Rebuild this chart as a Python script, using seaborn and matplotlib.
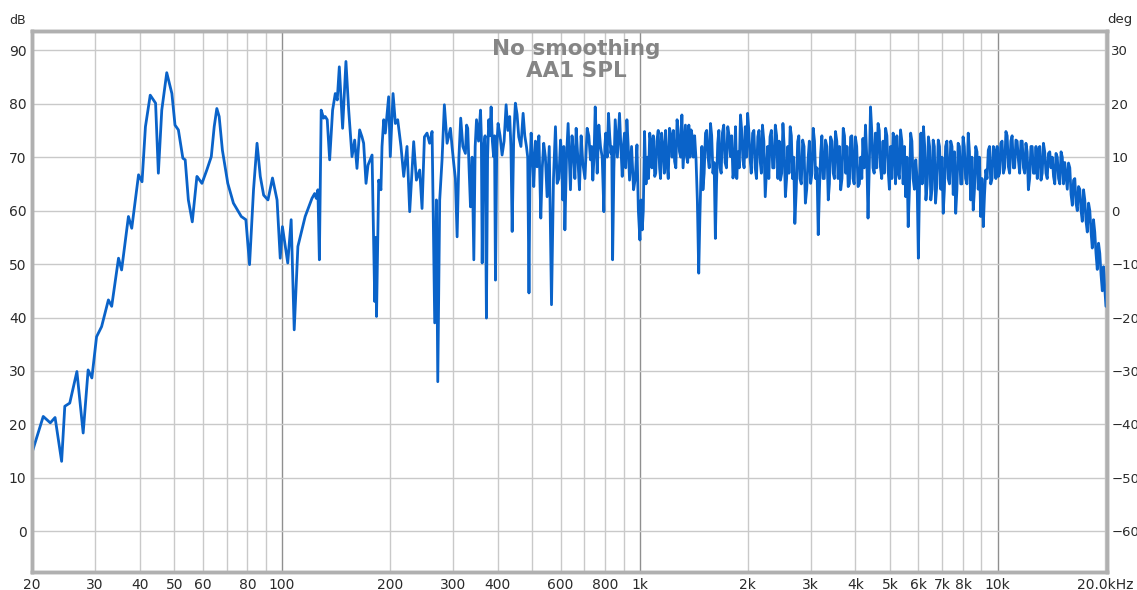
import matplotlib
matplotlib.use("Agg")
import matplotlib.pyplot as plt
import matplotlib.ticker as mticker
import pandas as pd
import seaborn as sns

# Measured SPL of the AA1 driver, unsmoothed (frequency in Hz, level in dB)
# Bass / lower-midrange part, up to 1 kHz
freq_low_hz = [
    20, 21.5, 22.5, 23.2, 24.2, 24.7, 25.5, 26.7, 27.8, 28.7, 29.4, 30.3, 31.3,
    32.7, 33.4, 34.9, 35.6, 37.2, 38.0, 39.7, 40.6, 41.5, 42.8, 44.3, 45.1,
    46.1, 47.6, 49.2, 50.2, 51.3, 52.8, 53.6, 54.7, 56.1, 57.8, 58.4, 59.7,
    61.6, 63.4, 64.6, 65.7, 66.7, 68.1, 70.5, 73.1, 76.9, 79.2, 81.1, 83.2,
    85.1, 86.9, 88.8, 91.3, 94.0, 96.8, 98.8, 100.2, 103.7, 106.0, 108.1,
    110.7, 116.0, 121.2, 123.3, 124.6, 125.9, 127.1, 128.6, 130.6, 132.0,
    133.7, 135.8, 138.4, 140.8, 142.6, 144.5, 147.6, 150.8, 153.5, 156.8,
    159.5, 161.9, 164.7, 167.2, 169.0, 171.6, 173.8, 178.4, 181.5, 182.5,
    183.6, 186.2, 188.9, 190.2, 192.3, 194.3, 198.5, 200.6, 204.2, 207.3,
    210.4, 214.9, 218.7, 223.4, 227.3, 233.2, 237.3, 242.4, 246.1, 249.9,
    254.1, 258.4, 262.5, 267.0, 269.9, 272.3, 275.7, 279.9, 284.1, 289.1,
    295.4, 301.7, 308.4, 315.6, 325.3, 330.2, 336.1, 343.4, 349.4, 358.5,
    362.4, 366.0, 372.4, 378.0, 383.8, 390.0, 394.7, 401.4, 411.9, 422.7,
    432.6, 439.5, 448.7, 458.5, 471.6, 481.8, 489.7, 496.6, 505.0, 515.9,
    528.4, 538.4, 550.3, 566.1, 580.7, 587, 600, 608.5, 617, 630, 639.5,
    653.2, 663.4, 677.7, 692.3, 712, 727.5, 738.5, 750, 759.5, 775.9, 793,
    802.7, 817, 829.6, 838.8, 853, 876.9, 892.4, 905.5, 919.6, 935.4, 959.9,
    981.1,
]
spl_low_db = [
    14.7, 21.5, 20.3, 21.3, 13.1, 23.4, 24.0, 29.9, 18.4, 30.2, 28.7, 36.4, 38.3,
    43.3, 42.1, 51.1, 48.9, 58.9, 56.7, 66.7, 65.4, 75.7, 81.6, 80.1, 67.0,
    78.8, 85.8, 81.9, 76.0, 75.1, 69.8, 69.5, 62.0, 57.9, 66.4, 66.0, 65.1,
    67.6, 70.1, 75.7, 79.1, 77.6, 71.3, 65.1, 61.4, 58.9, 58.3, 49.9, 63.9,
    72.6, 66.4, 62.9, 62.0, 66.1, 62.0, 51.1, 57.0, 50.2, 58.3, 37.7,
    53.3, 58.9, 62.3, 63.2, 62.3, 63.9, 50.8, 78.8, 77.3, 77.6,
    77.0, 69.5, 78.8, 81.9, 80.7, 86.9, 75.4, 87.9, 78.8, 70.1,
    73.2, 67.9, 75.1, 73.8, 72.6, 65.1, 68.5, 70.4, 43.0, 55.0,
    40.2, 65.7, 63.9, 72.0, 77.0, 74.5, 81.3, 70.1, 81.9, 76.3,
    77.0, 72.0, 66.4, 72.0, 59.8, 72.9, 65.7, 67.6, 60.4, 73.8,
    74.5, 72.6, 74.8, 39.0, 62.0, 28.0, 62.0, 69.5, 79.8, 72.6,
    75.4, 68.9, 55.1, 77.3, 70.7, 75.4, 60.7, 50.8, 77.0, 78.8,
    50.2, 72.0, 39.9, 77.0, 79.4, 70.1, 47.0, 76.3, 70.4, 79.8,
    77.6, 56.1, 80.1, 73.8, 78.2, 72.0, 44.6, 74.5, 64.5, 68.2,
    58.6, 72.6, 62.6, 42.4, 75.7, 65.1, 73.2, 62.0, 56.4, 76.3, 63.9,
    70.1, 75.4, 63.9, 68.9, 75.4, 69.5, 65.7, 79.4, 67.0, 72.0, 59.8,
    74.5, 78.2, 70.7, 50.8, 77.0, 78.2, 66.4, 74.5, 77.0, 65.7, 63.9,
    72.3,
]

# Midrange, 300 Hz to 1 kHz: in-between swings of the ripple
freq_mid_ripple_hz = [
    298.5, 305, 312, 320, 327.8, 333, 339.7, 346.4, 354, 360.4, 364.2, 369.2,
    375.2, 380.9, 386.9, 392.3, 398, 406.6, 417.3, 427.6, 436, 444, 453.6,
    465, 476.7, 485.7, 493, 500.8, 510.4, 522, 533.4, 544.3, 558, 573.4, 584,
    593.5, 604, 612.7, 623.5, 634.7, 646, 658, 670.5, 685, 702, 719.7, 733,
    744.2, 754.7, 767.7, 784.4, 797.8, 809.8, 823.3, 834.2, 845.9, 865, 884.6,
    898.9, 912.5, 927.5, 947.6, 970.5, 990,
]
spl_mid_ripple_db = [
    72, 66, 70, 72, 76, 68, 70, 72, 73, 74, 66, 74,
    70, 74, 73, 74, 72, 74, 73, 75, 72, 74, 78,
    72, 74, 70, 68, 70, 73, 74, 68, 70, 72, 66, 70,
    66, 70, 72, 70, 70, 74, 66, 70, 74, 66, 74, 72,
    70, 74, 76, 70, 72, 70, 74, 72, 68, 70, 72,
    72, 68, 72, 72, 66, 60,
]

# Upper-midrange / treble part, 1 kHz to 20 kHz: main peaks and dips
freq_high_hz = [
    1000, 1015, 1030, 1050, 1065, 1080, 1100, 1115, 1135, 1150, 1170, 1190,
    1210, 1230, 1250, 1270, 1290, 1310, 1330, 1350, 1370, 1390, 1410, 1435,
    1460, 1480, 1500, 1525, 1550, 1575, 1600, 1625, 1650, 1675, 1700, 1730,
    1760, 1790, 1820, 1850, 1880, 1910, 1940, 1970, 2000, 2030, 2065, 2100,
    2135, 2170, 2200, 2240, 2275, 2310, 2350, 2390, 2430, 2470, 2510, 2550,
    2590, 2630, 2670, 2710, 2760, 2800, 2850, 2900, 2950, 3000, 3050, 3100,
    3150, 3200, 3250, 3300, 3360, 3410, 3470, 3520, 3580, 3640, 3700, 3760,
    3820, 3880, 3940, 4000, 4070, 4140, 4200, 4270, 4340, 4410, 4480, 4550,
    4630, 4700, 4780, 4860, 4940, 5020, 5100, 5180, 5270, 5350, 5440, 5530,
    5620, 5710, 5800, 5900, 6000, 6100, 6200, 6300, 6400, 6500, 6600, 6700,
    6820, 6930, 7040, 7150, 7270, 7390, 7510, 7630, 7750, 7880, 8000, 8130,
    8270, 8400, 8540, 8680, 8820, 8960, 9110, 9260, 9410, 9560, 9720, 9880,
    10040, 10200, 10370, 10540, 10710, 10880, 11060, 11240, 11420, 11610,
    11800, 11990, 12180, 12380, 12580, 12790, 13000, 13210, 13420, 13640,
    13860, 14090, 14320, 14550, 14790, 15030, 15270, 15520, 15770, 16030,
    16290, 16550, 16820, 17090, 17370, 17650, 17940, 18230, 18520, 18820,
    19130, 19440, 19750, 19900, 20064,
]
spl_high_db = [
    54.5, 56.4, 74.8, 70.0, 74.5, 68.0, 66.4, 73.0, 68.0, 74.5, 67.0, 68.9,
    75.4, 70.0, 69.2, 77.0, 71.0, 77.9, 72.0, 70.1, 76.0, 75.1, 70.0, 69.5,
    48.3, 66.0, 63.9, 74.5, 70.0, 76.3, 67.0, 54.8, 72.6, 68.0, 74.5, 69.0,
    75.7, 70.1, 66.1, 75.7, 71.0, 77.9, 69.5, 75.7, 78.2, 70.1, 74.5, 68.0,
    73.8, 69.0, 76.0, 62.6, 72.0, 73.8, 68.0, 76.0, 66.0, 65.7, 76.3, 62.6,
    72.0, 75.7, 66.0, 57.6, 72.9, 66.0, 73.2, 61.4, 69.5, 65.1, 75.4, 66.0,
    55.5, 70.7, 66.0, 73.2, 62.0, 73.8, 67.0, 74.8, 66.0, 63.9, 75.4, 67.0,
    64.5, 73.8, 66.0, 73.8, 64.5, 70.0, 73.5, 76.0, 58.6, 79.4, 68.0, 74.5,
    76.3, 68.2, 73.0, 75.4, 67.6, 72.0, 74.5, 65.0, 67.0, 75.1, 65.0, 62.6,
    57.0, 74.5, 66.0, 69.5, 51.1, 74.5, 75.7, 62.0, 73.8, 62.0, 73.2, 61.4,
    73.2, 64.0, 59.5, 72.0, 66.0, 73.0, 63.0, 59.5, 72.6, 65.0, 73.8, 66.0,
    74.5, 62.0, 60.1, 72.0, 64.0, 58.9, 57.0, 67.6, 71.3, 65.0, 72.0, 66.0,
    66.4, 72.6, 67.0, 74.8, 68.2, 73.0, 68.0, 73.2, 69.5, 73.0,
    68.0, 72.6, 63.9, 72.0, 67.0, 72.0, 71.3, 65.7, 72.6, 67.0,
    70.7, 68.0, 66.4, 70.7, 66.0, 71.0, 65.0, 66.4, 68.9, 63.0,
    65.7, 61.4, 64.5, 60.1, 63.9, 58.0, 61.4, 56.0, 58.3, 52.0,
    53.9, 48.0, 49.5, 45.8, 42.1,
]

# Upper-midrange / treble part: in-between swings of the dense ripple
freq_ripple_hz = [
    1007, 1022, 1040, 1057, 1072, 1090, 1107, 1125, 1142, 1160, 1180, 1200,
    1220, 1240, 1260, 1280, 1300, 1320, 1340, 1360, 1380, 1400, 1422, 1447,
    1470, 1490, 1512, 1537, 1562, 1587, 1612, 1637, 1662, 1687, 1715, 1745,
    1775, 1805, 1835, 1865, 1895, 1925, 1955, 1985, 2015, 2047, 2082, 2117,
    2152, 2185, 2220, 2257, 2292, 2330, 2370, 2410, 2450, 2490, 2530, 2570,
    2610, 2650, 2690, 2735, 2780, 2825, 2875, 2925, 2975, 3025, 3075, 3125,
    3175, 3225, 3275, 3330, 3385, 3440, 3495, 3550, 3610, 3670, 3730, 3790,
    3850, 3910, 3970, 4035, 4105, 4170, 4235, 4305, 4375, 4445, 4515, 4590,
    4665, 4740, 4820, 4900, 4980, 5060, 5140, 5225, 5310, 5395, 5485, 5575,
    5665, 5755, 5850, 5950, 6050, 6150, 6250, 6350, 6450, 6550, 6650, 6760,
    6875, 6985, 7095, 7210, 7330, 7450, 7570, 7690, 7815, 7940, 8065, 8200,
    8335, 8470, 8610, 8750, 8890, 9035, 9185, 9335, 9485, 9640, 9800, 9960,
    10120, 10285, 10455, 10625, 10795, 10970, 11150, 11330, 11515, 11705,
    11895, 12085, 12280, 12480, 12685, 12895, 13105, 13315, 13530, 13750,
    13975, 14205, 14435, 14670, 14910, 15150, 15395, 15645, 15900, 16160,
    16420, 16685, 16955, 17230, 17510, 17795, 18085, 18375, 18670, 18975,
    19285, 19600, 19825, 19980,
]
spl_ripple_db = [
    62, 60, 65, 66, 73, 74, 67, 75, 66, 72, 75, 66,
    74, 75, 68, 75, 70, 68, 76, 69, 70, 74, 74, 62,
    58, 72, 67, 75, 68, 74, 69, 65, 75, 67, 76, 68,
    74, 74, 68, 66, 68, 75, 68, 70, 75, 67, 75, 66,
    75, 67, 73, 67, 66, 75, 68, 74, 73, 67, 72, 66,
    67, 74, 70, 64, 74, 65, 72, 64, 73, 67, 73, 68,
    64, 74, 66, 72, 65, 73, 66, 73, 72, 66, 74, 72,
    65, 74, 65, 72, 65, 66, 68, 70, 68, 75, 67, 68,
    75, 66, 67, 74, 64, 66, 73, 74, 66, 73, 72, 70,
    64, 73, 64, 66, 66, 65, 72, 65, 72, 64, 72, 65,
    72, 70, 64, 73, 65, 72, 71, 64, 72, 65, 72, 65,
    71, 70, 64, 71, 70, 66, 63, 66, 72, 66, 71, 72,
    67, 73, 68, 74, 67, 74, 68, 73, 67, 73,
    67, 71, 66, 72, 67, 66, 72, 67, 71, 66,
    71, 70, 65, 70, 65, 70, 69, 64, 68, 61,
    66, 60, 64, 58, 62, 56, 60, 53, 56, 49,
    52, 45, 48, 44,
]

x_ticks = [20, 30, 40, 50, 60, 80, 100, 200, 300, 400, 600, 800, 1000,
           2000, 3000, 4000, 5000, 6000, 7000, 8000, 10000, 20000]
x_tick_labels = ["20", "30", "40", "50", "60", "80", "100", "200", "300", "400",
                 "600", "800", "1k", "2k", "3k", "4k", "5k", "6k", "7k", "8k",
                 "10k", "20.0kHz"]
db_ticks = [0, 10, 20, 30, 40, 50, 60, 70, 80, 90]
deg_ticks = [-60, -50, -40, -30, -20, -10, 0, 10, 20, 30]

df = pd.DataFrame({
    "freq": freq_low_hz + freq_mid_ripple_hz + freq_high_hz + freq_ripple_hz,
    "spl": spl_low_db + spl_mid_ripple_db + spl_high_db + spl_ripple_db,
}).sort_values("freq", kind="stable").reset_index(drop=True)

sns.set_style("white")
plt.rcParams["font.family"] = ["DejaVu Sans"]

fig = plt.figure(figsize=(11.37, 5.90), dpi=100)
ax = fig.add_axes([32 / 1137, 18 / 590, 1075 / 1137, 541 / 590])

ax.set_xscale("log")
xmin, xmax = 20, 20200
ymin, ymax = -7.6, 93.6
ax.set_xlim(xmin, xmax)
ax.set_ylim(ymin, ymax)

# grid: every 1-2-3...9 of each decade, darker at decade boundaries
minor_grid = [m * 10 ** e for e in range(1, 5) for m in range(2, 10)
              if xmin < m * 10 ** e < xmax]
for f in minor_grid:
    ax.axvline(f, color="#c9c9c9", lw=1.0, zorder=0)
for f in [100, 1000, 10000]:
    ax.axvline(f, color="#8f8f8f", lw=1.0, zorder=0)
for v in db_ticks:
    ax.axhline(v, color="#c9c9c9", lw=1.0, zorder=0)

sns.lineplot(data=df, x="freq", y="spl", ax=ax, sort=False, estimator=None,
             color="#0a63c9", lw=2.0, zorder=3)

ax.xaxis.set_major_locator(mticker.FixedLocator(x_ticks))
ax.xaxis.set_major_formatter(mticker.FixedFormatter(x_tick_labels))
ax.xaxis.set_minor_locator(mticker.NullLocator())
ax.set_yticks(db_ticks)
ax.tick_params(axis="both", length=0, labelsize=10, colors="#2a2a2a", pad=4)
ax.set_xlabel("")
ax.set_ylabel("")

ax2 = ax.twinx()
ax2.set_ylim(ymin - 60, ymax - 60)
ax2.set_yticks(deg_ticks)
ax2.tick_params(axis="y", length=0, labelsize=9.5, colors="#2a2a2a", pad=3)

for a in (ax, ax2):
    for s in a.spines.values():
        s.set_color("#b0b0b0")
        s.set_linewidth(2.5)

fig.text(18 / 1137, 1 - 20 / 590, "dB", fontsize=9, color="#2a2a2a",
         ha="center", va="center")
fig.text(1120 / 1137, 1 - 20 / 590, "deg", fontsize=9.5, color="#2a2a2a",
         ha="center", va="center")
ax.text(0.506, 0.985, "No smoothing\nAA1 SPL", transform=ax.transAxes,
        ha="center", va="top", fontsize=15.5, fontweight="bold",
        color="#858585", linespacing=1.12)

fig.savefig("out.png", dpi=100, facecolor="white")
